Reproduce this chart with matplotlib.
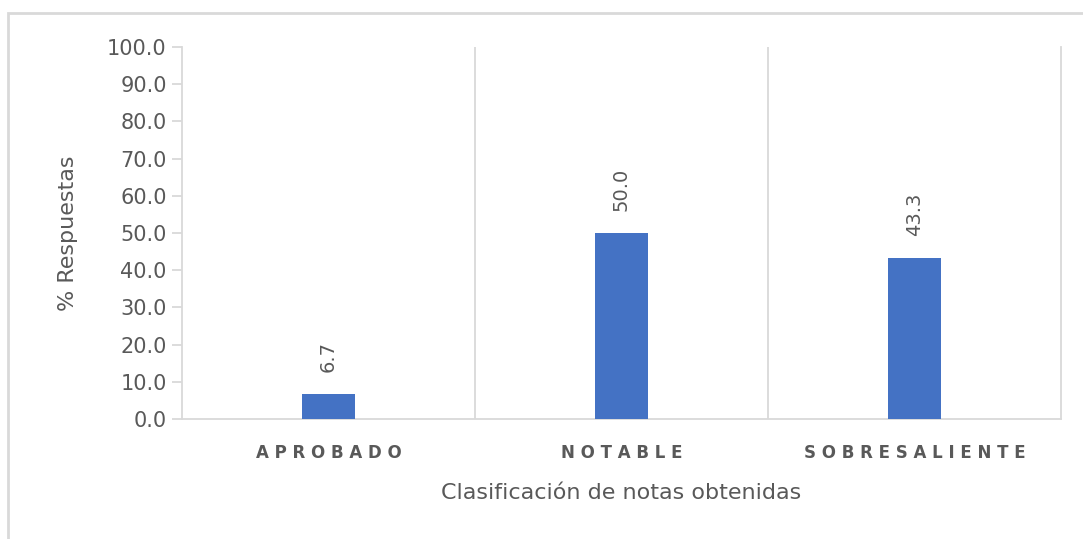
import numpy as np
import matplotlib
matplotlib.use("Agg")
import matplotlib.pyplot as plt
from matplotlib.patches import Rectangle

categorias = ["APROBADO", "NOTABLE", "SOBRESALIENTE"]
porcentajes = [6.7, 50.0, 43.3]
yticks = [0, 10, 20, 30, 40, 50, 60, 70, 80, 90, 100]

gris = "#595959"
linea = "#D9D9D9"
azul = "#4472C4"

plt.rcParams["font.family"] = ["DejaVu Sans"]

fig = plt.figure(figsize=(10.83, 5.39), dpi=100)
ax = fig.add_axes([182/1083, 1-419/539, (1061-182)/1083, (419-47)/539])

x = np.arange(len(categorias))
ax.bar(x, porcentajes, width=0.18, color=azul, zorder=3)

# etiquetas de valor, giradas
for xi, v in zip(x, porcentajes):
    ax.annotate(f"{v:.1f}", (xi, v), xytext=(0, 16), textcoords="offset points",
                rotation=90, ha="center", va="bottom", fontsize=14, color=gris)

ax.set_xlim(-0.5, len(categorias) - 0.5)
ax.set_ylim(0, 100)
ax.set_yticks(yticks)
ax.set_yticklabels([f"{t:.1f}" for t in yticks], fontsize=15, color=gris)

# separadores verticales entre categorias
for b in np.arange(0.5, len(categorias) - 0.5):
    ax.axvline(b, color=linea, lw=1.3, zorder=1)

ax.set_xticks(x)
ax.set_xticklabels([" ".join(c) for c in categorias], fontsize=12, color=gris,
                   fontweight="bold")
ax.tick_params(axis="x", length=0, pad=18)
ax.tick_params(axis="y", length=7, color=linea, width=1.3, pad=4)

for s in ["left", "right", "bottom"]:
    ax.spines[s].set_color(linea)
    ax.spines[s].set_linewidth(1.3)
ax.spines["top"].set_visible(False)

ax.set_ylabel("% Respuestas", fontsize=16, color=gris)
ax.yaxis.set_label_coords(-0.118, 0.5)
ax.set_xlabel("Clasificación de notas obtenidas", fontsize=16, color=gris)
ax.xaxis.set_label_coords(0.5, -0.172)

# marco del grafico
fig.patches.append(Rectangle((8/1083, -0.1), 1.2, 1-13/539 + 0.1,
                             transform=fig.transFigure, fill=False,
                             edgecolor="#D9D9D9", lw=2))

fig.savefig("out.png", dpi=100)
